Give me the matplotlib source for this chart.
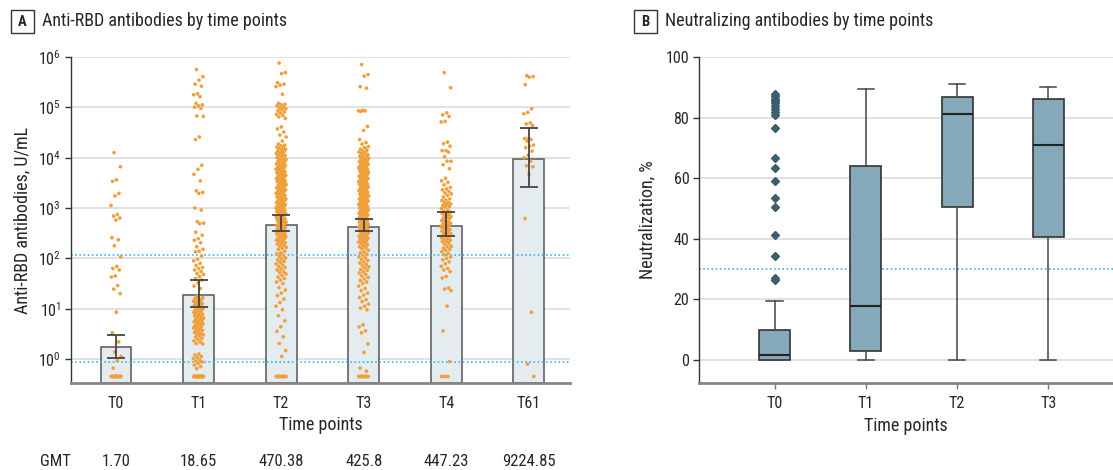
import numpy as np
import matplotlib
matplotlib.use('Agg')
import matplotlib.pyplot as plt
from matplotlib.patches import Rectangle
from matplotlib.transforms import blended_transform_factory
from matplotlib import font_manager

# ---------------- data ----------------
CATS_A = ['T0', 'T1', 'T2', 'T3', 'T4', 'T61']
GMT = [1.70, 18.65, 470.38, 425.8, 447.23, 9224.85]
GMT_LABELS = ['1.70', '18.65', '470.38', '425.8', '447.23', '9224.85']
CI_LOW = [1.06, 11.0, 345, 350, 280, 2600]
CI_HIGH = [3.0, 37, 730, 610, 830, 38000]
CUTOFFS_A = [0.87, 114]
FLOOR_VALUE = 0.45
FLOOR_COUNT = [20, 25, 12, 12, 4, 1]

T0_LOG = [4.10, 3.82, 3.56, 3.53, 3.29, 3.24, 3.05, 2.87, 2.84, 2.80, 2.76, 2.41, 2.37,
          2.25, 2.03, 1.84, 1.80, 1.77, 1.65, 1.63, 1.46, 1.39, 1.30, 0.93, 0.52, 0.34,
          0.14, 0.05, -0.03, -0.18]
T1_LOG = [5.75, 5.61, 5.54, 5.46, 5.42, 5.27, 5.25, 5.21, 5.08, 5.05, 5.03, 5.00, 4.98,
          4.83, 4.82, 4.41, 4.36, 3.85, 3.77, 3.67, 3.54, 3.34, 3.31, 3.29, 3.00, 2.96,
          2.73, 2.70, 2.69, 2.52, 2.46, 2.39, 2.36, 2.31, 2.23, 2.18, 2.14, 2.13, 2.05,
          1.98, 1.95, 1.90, 1.86, 1.82, 1.80, 1.77, 1.74, 1.70, 1.68, 1.64, 1.60, 1.57,
          1.51, 1.45, 1.40,
          1.24, 1.22, 1.21, 1.20, 1.17, 1.16, 1.15, 1.12, 1.11, 1.10, 1.08, 1.07, 1.05,
          1.04, 1.01, 1.00, 0.98, 0.97, 0.96, 0.93, 0.92, 0.91, 0.89, 0.88, 0.86, 0.84,
          0.83, 0.81, 0.80, 0.79, 0.77, 0.75, 0.74, 0.72, 0.71, 0.70, 0.68, 0.66, 0.65,
          0.63, 0.62, 0.60, 0.58, 0.57, 0.55, 0.53, 0.51, 0.50, 0.48, 0.46, 0.44, 0.41,
          0.39, 0.36, 0.34, 0.31, 0.30, 0.10, 0.08, 0.05, 0.03, 0.01, -0.02, -0.04,
          -0.06, -0.09, -0.12, -0.15, -0.19]
T2_LOG = [5.88, 5.69, 5.67, 5.49, 5.46, 5.44, 5.41, 5.26,
          5.08, 5.06, 5.05, 5.03, 5.01, 4.99, 4.97, 4.96, 4.93, 4.91, 4.89, 4.86, 4.84,
          4.81, 4.78, 4.61, 4.57, 4.51, 4.45, 4.41, 4.33,
          4.27, 4.25, 4.24, 4.21, 4.20, 4.18, 4.17, 4.15, 4.13, 4.12, 4.10, 4.08, 4.07,
          4.05, 4.04, 4.02, 4.00, 3.99, 3.97, 3.96, 3.94, 3.93, 3.91, 3.90, 3.88, 3.87,
          3.85, 3.84, 3.82, 3.81, 3.79, 3.78, 3.77, 3.75, 3.74, 3.72, 3.71, 3.70, 3.68,
          3.67, 3.65, 3.64, 3.63, 3.61, 3.60, 3.58, 3.57, 3.56, 3.54, 3.53, 3.52, 3.50,
          3.49, 3.47, 3.46, 3.45, 3.43, 3.42, 3.40, 3.39, 3.38, 3.36, 3.35, 3.33, 3.32,
          3.31, 3.29, 3.28, 3.26, 3.25, 3.24, 3.22, 3.21, 3.19, 3.18, 3.17, 3.15, 3.14,
          3.12, 3.11, 3.10, 3.08, 3.07, 3.05, 3.04, 3.03, 3.01, 3.00, 2.98, 2.97, 2.96,
          2.94, 2.93, 2.92, 2.90, 2.89, 2.88, 2.86, 2.85, 2.84, 2.82, 2.81, 2.80, 2.78,
          2.77, 2.76, 2.74, 2.73, 2.72, 2.70, 2.69, 2.68, 2.66, 2.65, 2.64, 2.62, 2.61,
          2.60, 2.58, 2.57, 2.56, 2.54, 2.53, 2.52, 2.50, 2.49, 2.48, 2.46, 2.45, 2.43,
          2.42, 2.40, 2.39, 2.37, 2.36, 2.34, 2.33, 2.31, 2.30, 2.28, 2.26, 2.24, 2.22,
          2.20, 2.18,
          2.14, 2.11, 2.09, 2.06, 2.04, 2.01, 1.99, 1.97, 1.94, 1.92, 1.89, 1.87, 1.84,
          1.82, 1.79, 1.77, 1.74, 1.72, 1.69, 1.66, 1.63, 1.60, 1.57, 1.53, 1.50,
          1.42, 1.37, 1.31, 1.26, 1.19, 1.12, 1.05, 0.98,
          0.86, 0.76, 0.64, 0.55, 0.44, 0.31, 0.17, 0.05]
T3_LOG = [5.85, 5.65, 5.62, 5.41, 5.38, 4.94, 4.93, 4.93, 4.92, 4.62, 4.54, 4.36, 4.30,
          4.27, 4.22, 4.20, 4.17, 4.15,
          4.13, 4.11, 4.10, 4.08, 4.06, 4.05, 4.03, 4.02, 4.00, 3.99, 3.97, 3.96, 3.94,
          3.93, 3.92, 3.90, 3.89, 3.87, 3.86, 3.85, 3.83, 3.82, 3.80, 3.79, 3.78, 3.76,
          3.75, 3.74, 3.72, 3.71, 3.70, 3.68, 3.67, 3.66, 3.64, 3.63, 3.62, 3.60, 3.59,
          3.58, 3.56, 3.55, 3.54, 3.52, 3.51, 3.50, 3.48, 3.47, 3.46, 3.44, 3.43, 3.42,
          3.40, 3.39, 3.38, 3.36, 3.35, 3.34, 3.32, 3.31, 3.30, 3.28, 3.27, 3.26, 3.24,
          3.23, 3.22, 3.20, 3.19, 3.18, 3.16, 3.15, 3.14, 3.12, 3.11, 3.10, 3.08, 3.07,
          3.06, 3.04, 3.03, 3.02, 3.00, 2.99, 2.98, 2.96, 2.95, 2.94, 2.92, 2.91, 2.90,
          2.88, 2.87, 2.86, 2.84, 2.83, 2.82, 2.80, 2.79, 2.78, 2.76, 2.75, 2.74, 2.72,
          2.71, 2.70, 2.68, 2.67, 2.66, 2.64, 2.63, 2.62, 2.60, 2.59, 2.58, 2.56, 2.55,
          2.54, 2.52, 2.51, 2.50, 2.48, 2.47, 2.46, 2.44, 2.43, 2.41, 2.40, 2.38, 2.37,
          2.35, 2.34, 2.32, 2.31, 2.29, 2.27, 2.25, 2.23, 2.21, 2.19,
          2.16, 2.13, 2.11, 2.08, 2.06, 2.03, 2.01, 1.98, 1.96, 1.93, 1.91, 1.88, 1.86,
          1.83, 1.81, 1.78, 1.76, 1.73, 1.71, 1.68, 1.65, 1.62, 1.59, 1.56, 1.53, 1.50,
          1.45, 1.40, 1.36, 1.31, 1.27, 1.22, 1.18, 1.14, 1.09, 1.05, 1.01, 0.98,
          0.68, 0.64, 0.56, 0.52, 0.30, 0.13, -0.18, -0.24]
T4_LOG = [5.69, 5.39, 4.89, 4.85, 4.82, 4.72, 4.71, 4.31, 4.28, 4.23, 4.14, 4.14, 4.11,
          4.02, 3.93, 3.93, 3.86, 3.78, 3.59, 3.54, 3.51, 3.46, 3.41, 3.38, 3.36, 3.33,
          3.30, 3.28, 3.25, 3.22, 3.18, 3.16, 3.15, 3.11, 3.10, 3.08, 3.07, 3.05, 3.03,
          3.02, 2.99, 2.96, 2.94, 2.92, 2.91, 2.89, 2.87, 2.85, 2.83, 2.82, 2.80, 2.79,
          2.77, 2.75, 2.73, 2.72, 2.70, 2.69, 2.67, 2.66, 2.64, 2.62, 2.60, 2.59, 2.57,
          2.56, 2.54, 2.52, 2.50, 2.49, 2.47, 2.46, 2.44, 2.43, 2.41, 2.39, 2.37, 2.36,
          2.34, 2.33, 2.30, 2.28, 2.24, 2.23, 2.20, 2.18, 2.16, 2.13, 2.10, 2.07, 2.03,
          2.00, 1.97, 1.93, 1.89, 1.84, 1.80, 1.77, 1.74, 1.64, 1.61, 1.41, 1.39, 1.36,
          1.05, 0.56, -0.05]
T61_LOG = [5.63, 5.61, 5.60, 5.45, 4.97, 4.90, 4.87, 4.69, 4.67, 4.64, 4.39, 4.38, 4.36,
           4.33, 4.25, 4.23, 4.20, 4.13, 4.05, 4.00, 3.93, 3.84, 3.82, 3.67, 2.79, 0.93,
           -0.10]

CATS_B = ['T0', 'T1', 'T2', 'T3']
B_Q1 = [0.0, 3.1, 50.6, 40.5]
B_MED = [1.5, 17.8, 81.1, 70.8]
B_Q3 = [10.0, 64.1, 86.7, 86.1]
B_WLO = [0.0, 0.0, 0.0, 0.0]
B_WHI = [19.6, 89.3, 91.2, 90.2]
B_FLIERS = [[87.8, 87.0, 86.3, 85.5, 84.8, 83.9, 83.0, 82.0, 81.0, 76.7, 66.7, 63.2,
             59.1, 53.5, 50.6, 41.4, 34.2, 27.1, 26.5], [], [], []]
CUTOFF_B = 30

# ---------------- style ----------------
avail = {f.name for f in font_manager.fontManager.ttflist}
FONT = 'DejaVu Sans'
for cand in ['Liberation Sans Narrow', 'Roboto Condensed', 'DejaVu Sans Condensed',
             'Open Sans Condensed', 'Liberation Sans']:
    if cand in avail:
        FONT = cand
        break
plt.rcParams['font.family'] = [FONT, 'DejaVu Sans']
plt.rcParams['mathtext.fontset'] = 'custom'
plt.rcParams['mathtext.rm'] = FONT
plt.rcParams['mathtext.it'] = FONT
plt.rcParams['mathtext.bf'] = FONT

TXT = '#262626'
ORANGE = '#F0A03A'
CYAN = '#39B5E6'
GRID = '#DCDCDC'
LABEL_FS = 13
TICK_FS = 11.5

W, H = 1113, 470
fig = plt.figure(figsize=(W / 100, H / 100), dpi=100)

# ---------------- panel A ----------------
axA = fig.add_axes([71 / W, 1 - 383 / H, (570 - 71) / W, (383 - 57) / H])
axA.set_yscale('log')
ylow = 10 ** -0.476
axA.set_ylim(ylow, 1e6)
axA.set_xlim(-0.545, 5.5)
x = np.arange(len(CATS_A))
gmt = np.array(GMT)
axA.bar(x, gmt - ylow, bottom=ylow, width=0.375, color='#E4ECF0', edgecolor='#555555',
        linewidth=1.1, zorder=2)
for v in CUTOFFS_A:
    axA.axhline(v, color=CYAN, ls=(0, (1, 1.5)), lw=1.2, zorder=2.5)
groups = [T0_LOG, T1_LOG, T2_LOG, T3_LOG, T4_LOG, T61_LOG]
for i, (g, nf) in enumerate(zip(groups, FLOOR_COUNT)):
    vals = np.concatenate([10 ** np.array(g), np.full(nf, FLOOR_VALUE)])
    k = np.arange(len(vals))
    jit = ((k * 0.6180339887 + 0.31) % 1.0 - 0.5) * 0.125
    axA.scatter(i + jit, vals, s=7, color=ORANGE, edgecolors='none', zorder=3)
axA.errorbar(x, gmt, yerr=[gmt - np.array(CI_LOW), np.array(CI_HIGH) - gmt], fmt='none',
             ecolor='#444444', elinewidth=1.3, capsize=6.5, capthick=1.3, zorder=5)
axA.yaxis.grid(True, which='major', color=GRID, lw=1.2)
axA.set_axisbelow(True)
axA.minorticks_off()
axA.set_yticks([1e0, 1e1, 1e2, 1e3, 1e4, 1e5, 1e6])
axA.set_xticks(x)
axA.set_xticklabels(CATS_A)
axA.tick_params(axis='x', length=0, pad=9, labelsize=TICK_FS, labelcolor=TXT)
axA.tick_params(axis='y', length=4, width=1, color='#333333', labelsize=TICK_FS,
                labelcolor=TXT, pad=3)
for s in ['top', 'right']:
    axA.spines[s].set_visible(False)
axA.spines['left'].set_color('#333333')
axA.spines['left'].set_linewidth(1.0)
axA.spines['bottom'].set_color('#858585')
axA.spines['bottom'].set_linewidth(2.0)
axA.set_xlabel('Time points', fontsize=LABEL_FS, color=TXT, labelpad=4)
axA.set_ylabel('Anti-RBD antibodies, U/mL', fontsize=LABEL_FS, color=TXT, labelpad=5)

tr = blended_transform_factory(axA.transData, fig.transFigure)
fig.text(55 / W, 1 - 461 / H, 'GMT', ha='center', va='center', fontsize=12, color=TXT)
for i, lab in enumerate(GMT_LABELS):
    axA.text(i, 1 - 461 / H, lab, transform=tr, ha='center', va='center', fontsize=12,
             color=TXT)

# ---------------- panel B ----------------
axB = fig.add_axes([699 / W, 1 - 383 / H, (1113 - 699) / W, (383 - 57) / H])
stats = []
for i in range(len(CATS_B)):
    stats.append(dict(med=B_MED[i], q1=B_Q1[i], q3=B_Q3[i], whislo=B_WLO[i],
                      whishi=B_WHI[i], fliers=B_FLIERS[i]))
axB.axhline(CUTOFF_B, color=CYAN, ls=(0, (1, 1.5)), lw=1.2, zorder=1.5)
axB.bxp(stats, positions=range(len(CATS_B)), widths=0.34, patch_artist=True,
        showfliers=True, capwidths=0.18,
        boxprops=dict(facecolor='#85A9B8', edgecolor='#333333', linewidth=1.2),
        medianprops=dict(color='#222222', linewidth=1.5),
        whiskerprops=dict(color='#444444', linewidth=1.1),
        capprops=dict(color='#444444', linewidth=1.1),
        flierprops=dict(marker='D', markerfacecolor='#3D5F6D', markeredgecolor='#3D5F6D',
                        markersize=4), zorder=3)
axB.set_xlim(-0.83, 3.71)
axB.set_ylim(-7.6, 100)
axB.set_yticks([0, 20, 40, 60, 80, 100])
axB.set_xticks(range(len(CATS_B)))
axB.set_xticklabels(CATS_B)
axB.yaxis.grid(True, color=GRID, lw=1.2)
axB.set_axisbelow(True)
axB.tick_params(axis='x', length=4.5, width=1, color='#777777', pad=5, labelsize=TICK_FS,
                labelcolor=TXT)
axB.tick_params(axis='y', length=4, width=1, color='#333333', labelsize=TICK_FS,
                labelcolor=TXT, pad=3)
for s in ['top', 'right']:
    axB.spines[s].set_visible(False)
axB.spines['left'].set_color('#333333')
axB.spines['left'].set_linewidth(1.0)
axB.spines['bottom'].set_color('#858585')
axB.spines['bottom'].set_linewidth(2.0)
axB.set_xlabel('Time points', fontsize=LABEL_FS, color=TXT, labelpad=4)
axB.set_ylabel('Neutralization, %', fontsize=LABEL_FS, color=TXT, labelpad=7)

# ---------------- titles ----------------
for (bx, label, tx, title) in [(11, 'A', 42, 'Anti-RBD antibodies by time points'),
                               (634, 'B', 665, 'Neutralizing antibodies by time points')]:
    fig.patches.append(Rectangle((bx / W, 1 - 33 / H), 23 / W, 23 / H,
                                 transform=fig.transFigure, fill=False, ec='#333333',
                                 lw=1.0))
    fig.text((bx + 11.5) / W, 1 - 21.5 / H, label, ha='center', va='center',
             fontsize=10.5, fontweight='bold', color=TXT)
    fig.text(tx / W, 1 - 21.5 / H, title, ha='left', va='center', fontsize=13, color=TXT)

fig.savefig('out.png', dpi=100)
